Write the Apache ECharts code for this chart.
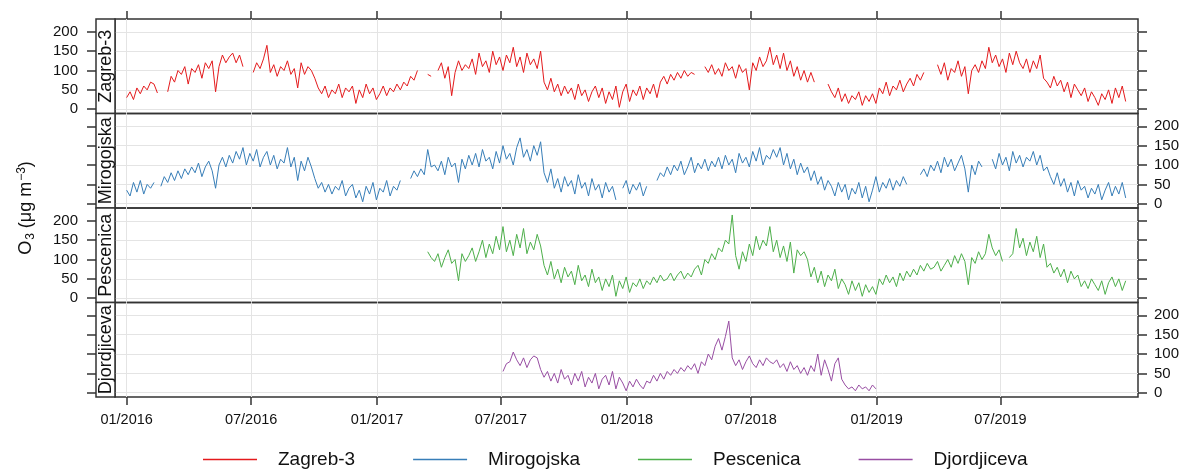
<!DOCTYPE html>
<html>
<head>
<meta charset="utf-8">
<script src="https://cdn.jsdelivr.net/npm/echarts@6/dist/echarts.min.js"></script>
<style>
  html, body { margin: 0; padding: 0; background: #ffffff; }
  #chart { width: 1182px; height: 470px; }
</style>
</head>
<body>
<div id="chart"></div>
<script>
// Daily-mean O3 at four Zagreb stations, sampled every 5 days from 01/2016.
const START = Date.UTC(2016, 0, 1);
const DAY = 86400000;
const STEP_DAYS = 5;

const stations = ['Zagreb-3', 'Mirogojska', 'Pescenica', 'Djordjiceva'];
const colors = ['#E41A1C', '#377EB8', '#4DAF4A', '#984EA3'];

// first sample day (days after 01/01/2016) of each series
const startDays = [0, 0, 440, 550];

// one row = 10 samples = 50 days
const zagreb3 = [
  30, 45, 25, 55, 40, 60, 50, 70, 65, 42,
  null, null, 45, 85, 70, 100, 90, 110, 65, 105,
  95, 115, 80, 120, 105, 125, 45, 110, 140, 120,
  135, 145, 120, 140, 110, null, null, 95, 120, 105,
  130, 165, 95, 115, 85, 110, 100, 125, 90, 105,
  55, 120, 90, 110, 100, 80, 55, 40, 60, 30,
  50, 40, 65, 30, 55, 45, 60, 15, 50, 30,
  65, 40, 55, 25, 40, 60, 35, 55, 45, 65,
  50, 70, 60, 85, 75, 100, null, null, 90, 85,
  null, 100, 120, 80, 110, 35, 95, 125, 100, 115,
  105, 130, 90, 145, 110, 125, 95, 150, 115, 135,
  100, 140, 120, 160, 110, 135, 95, 145, 115, 130,
  105, 150, 70, 50, 80, 45, 65, 35, 60, 40,
  55, 25, 65, 35, 50, 20, 45, 60, 30, 55,
  15, 45, 25, 60, 5, 45, 65, 20, 50, 35,
  60, 25, 55, 40, 65, 30, 70, 85, 65, 90,
  75, 95, 80, 100, 85, 95, 90, null, null, 110,
  95, 115, 90, 105, 85, 120, 100, 110, 80, 115,
  95, 105, 50, 120, 100, 135, 110, 125, 160, 115,
  140, 105, 145, 100, 125, 85, 110, 75, 100, 70,
  95, 70, null, null, null, 65, 45, 30, 55, 20,
  40, 15, 35, 25, 45, 10, 35, 20, 40, 15,
  55, 40, 70, 35, 60, 50, 75, 45, 65, 80,
  60, 90, 75, 95, null, null, null, 115, 90, 120,
  75, 105, 95, 125, 85, 110, 40, 100, 115, 95,
  125, 105, 160, 120, 140, 110, 130, 95, 145, 115,
  150, 120, 105, 130, 95, 125, 105, 140, 80, 70,
  55, 85, 60, 75, 45, 70, 30, 65, 50, 35,
  55, 20, 45, 30, 10, 40, 25, 50, 15, 55,
  30, 60, 20
];

const mirogojska = [
  35, 20, 55, 30, 60, 25, 50, 40, 55, null,
  45, 70, 55, 80, 60, 85, 65, 90, 75, 95,
  80, 105, 70, 95, 110, 85, 40, 100, 120, 95,
  125, 105, 135, 115, 145, 100, 130, 110, 140, 95,
  120, 135, 100, 125, 90, 115, 105, 145, 95, 120,
  60, 110, 85, 120, 95, 65, 40, 55, 30, 50,
  25, 45, 35, 60, 20, 40, 50, 15, 35, 5,
  45, 25, 55, 10, 40, 30, 60, 20, 45, 35,
  60, null, null, 65, 85, 70, 90, 75, 140, 95,
  100, 85, 110, 75, 120, 95, 105, 55, 115, 90,
  125, 100, 130, 95, 140, 110, 120, 90, 135, 105,
  150, 115, 130, 100, 145, 170, 120, 140, 110, 150,
  125, 160, 80, 55, 90, 40, 65, 30, 70, 45,
  60, 25, 75, 40, 55, 20, 65, 35, 50, 15,
  55, 30, 45, 10, null, 40, 60, 25, 50, 35,
  55, 20, 45, null, null, 60, 80, 70, 95, 75,
  100, 85, 110, 75, 95, 120, 80, 105, 90, 115,
  85, 110, 95, 120, 90, 125, 100, 115, 80, 130,
  105, 120, 95, 135, 110, 145, 100, 125, 115, 140,
  120, 145, 100, 130, 90, 115, 75, 105, 80, 95,
  60, 85, 50, 70, 35, 60, 45, 20, 55, 30,
  50, 10, 40, 25, 55, 15, 45, 5, 35, 70,
  30, 55, 40, 65, 35, 60, 45, 70, 50, null,
  null, null, 75, 90, 70, 100, 85, 110, 80, 120,
  95, 115, 85, 105, 125, 90, 30, 100, 75, 110,
  95, null, null, 115, 90, 130, 100, 120, 85, 135,
  105, 125, 95, 120, 110, 135, 100, 125, 85, 95,
  70, 50, 80, 45, 65, 30, 55, 20, 60, 35,
  45, 15, 40, 25, 50, 10, 35, 55, 20, 45,
  25, 55, 15
];

const pescenica = [
  120, 105,
  95, 115, 80, 105, 125, 90, 100, 45, 115, 95,
  110, 130, 95, 120, 150, 105, 140, 115, 160, 125,
  185, 120, 150, 110, 165, 130, 180, 115, 145, 125,
  165, 135, 85, 60, 95, 50, 75, 40, 80, 55,
  70, 35, 85, 45, 60, 30, 75, 40, 55, 20,
  50, 30, 60, 5, 45, 25, 55, 15, 40, 30,
  50, 25, 45, 35, 55, 40, 60, 45, 50, 65,
  45, 60, 70, 50, 65, 55, 75, 85, 60, 100,
  90, 115, 100, 130, 120, 150, 140, 215, 110, 75,
  120, 95, 140, 110, 160, 125, 150, 135, 185, 120,
  150, 105, 135, 95, 145, 65, 125, 110, 120, 100,
  55, 80, 40, 70, 30, 60, 45, 75, 25, 50,
  35, 10, 45, 20, 40, 5, 35, 15, 30, 10,
  50, 35, 60, 40, 55, 30, 65, 45, 70, 55,
  75, 60, 85, 70, 90, 75, 80, 95, 70, 85,
  100, 80, 110, 90, 115, 95, 35, 105, 90, 120,
  100, 115, 165, 130, 110, 125, 95, null, 105, 115,
  180, 130, 155, 110, 145, 120, 160, 105, 140, 80,
  90, 65, 80, 55, 75, 40, 70, 50, 60, 30,
  45, 25, 50, 35, 20, 45, 10, 40, 55, 30,
  50, 20, 45
];

const djordjiceva = [
  55, 75, 80, 105, 85, 70, 90, 65, 85, 95,
  90, 60, 40, 55, 30, 50, 25, 60, 35, 45,
  20, 50, 30, 55, 15, 40, 25, 50, 10, 35,
  45, 20, 55, 10, 40, 25, 5, 30, 15, 35,
  20, 10, 30, 25, 45, 30, 50, 35, 55, 45,
  60, 50, 65, 55, 70, 60, 75, 50, 80, 70,
  100, 85, 120, 140, 110, 145, 185, 90, 70, 85,
  60, 80, 95, 75, 65, 85, 70, 90, 80, 75,
  85, 65, 75, 55, 80, 60, 70, 50, 65, 45,
  70, 55, 100, 45, 85, 60, 30, 75, 90, 35,
  20, 10, 15, 5, 20, 10, 15, 5, 20, 10
];

const seriesValues = [zagreb3, mirogojska, pescenica, djordjiceva];

// x-axis ticks
const tickDates = [
  [2016, 0], [2016, 6], [2017, 0], [2017, 6],
  [2018, 0], [2018, 6], [2019, 0], [2019, 6]
];
const tickLabels = ['01/2016', '07/2016', '01/2017', '07/2017',
                    '01/2018', '07/2018', '01/2019', '07/2019'];
const yTicks = [0, 50, 100, 150, 200];

const tickTimes = tickDates.map(d => Date.UTC(d[0], d[1], 1));
const X_MIN = START - 17 * DAY;
const X_MAX = START + 1478 * DAY;
const Y_MIN = -11;
const Y_MAX = 233;

// panel layout
const PANEL_TOP = 19;
const PANEL_H = 94.5;
const PLOT_LEFT = 115;
const PLOT_RIGHT = 44;
const STRIP_X = 96;
const STRIP_W = PLOT_LEFT - STRIP_X;

const FONT = '"Liberation Sans", Arial, Helvetica, sans-serif';
const INK = '#111111';
const FRAME = '#333333';
const GRIDLINE = '#e4e4e4';

function toPoints(values, startDay) {
  return values.map((v, i) => [START + (startDay + i * STEP_DAYS) * DAY, v]);
}

function tickLabel(v) {
  let best = 0;
  tickTimes.forEach((t, j) => {
    if (Math.abs(t - v) < Math.abs(tickTimes[best] - v)) best = j;
  });
  return tickLabels[best];
}

const grids = [], xAxes = [], yAxes = [], series = [], graphics = [];

stations.forEach((name, i) => {
  const top = PANEL_TOP + i * PANEL_H;
  grids.push({
    left: PLOT_LEFT, right: PLOT_RIGHT, top: top, height: PANEL_H,
    show: true, borderColor: FRAME, borderWidth: 1.5, backgroundColor: 'transparent',
    containLabel: false, outerBoundsMode: 'none'
  });

  const isTop = i === 0, isBottom = i === stations.length - 1;
  xAxes.push({
    type: 'value', gridIndex: i, min: X_MIN, max: X_MAX,
    position: isTop ? 'top' : 'bottom',
    axisLine: { show: false, onZero: false },
    axisTick: {
      show: isTop || isBottom, inside: false, length: 8,
      customValues: tickTimes,
      lineStyle: { color: FRAME, width: 1.5 }
    },
    axisLabel: {
      show: isBottom, customValues: tickTimes, margin: 15,
      fontSize: 14.5, fontFamily: FONT, color: INK,
      formatter: tickLabel
    },
    splitLine: { show: true, lineStyle: { color: GRIDLINE, width: 1 } }
  });

  const labelLeft = i % 2 === 0;
  yAxes.push({
    type: 'value', gridIndex: i, position: 'left', offset: STRIP_W,
    min: Y_MIN, max: Y_MAX,
    axisLine: { show: false, onZero: false },
    axisTick: { show: true, inside: false, length: 9, customValues: yTicks,
                lineStyle: { color: FRAME, width: 1.5 } },
    axisLabel: { show: labelLeft, customValues: yTicks, margin: 18,
                 fontSize: 15, fontFamily: FONT, color: INK },
    splitLine: { show: true, lineStyle: { color: GRIDLINE, width: 1 } }
  });
  yAxes.push({
    type: 'value', gridIndex: i, position: 'right',
    min: Y_MIN, max: Y_MAX,
    axisLine: { show: false, onZero: false },
    axisTick: { show: true, inside: false, length: 9, customValues: yTicks,
                lineStyle: { color: FRAME, width: 1.5 } },
    axisLabel: { show: !labelLeft, customValues: yTicks, margin: 16,
                 fontSize: 15, fontFamily: FONT, color: INK },
    splitLine: { show: false }
  });

  series.push({
    name: name, type: 'line', xAxisIndex: i, yAxisIndex: 2 * i,
    data: toPoints(seriesValues[i], startDays[i]),
    symbol: 'none', connectNulls: false, animation: false,
    lineStyle: { color: colors[i], width: 1 },
    itemStyle: { color: colors[i] }
  });

  // station strip on the left of each panel
  graphics.push({
    type: 'rect', shape: { x: STRIP_X, y: top, width: STRIP_W, height: PANEL_H },
    style: { fill: '#ffffff', stroke: FRAME, lineWidth: 1.5 }, z: 10
  });
  graphics.push({
    type: 'text', x: STRIP_X + STRIP_W / 2 + 1, y: top + PANEL_H / 2, rotation: Math.PI / 2,
    style: { text: name, fontSize: 18, fontFamily: FONT, fill: INK,
             align: 'center', verticalAlign: 'middle' }, z: 11
  });
});

// y-axis title
graphics.push({
  type: 'text', x: 26, y: 208, rotation: Math.PI / 2,
  style: {
    text: '{a|O}{s|3}{a| (μg m}{p|−3}{a|)}',
    align: 'center', verticalAlign: 'middle', fill: INK,
    rich: {
      a: { fontSize: 18, fontFamily: FONT, fill: INK },
      s: { fontSize: 12, fontFamily: FONT, fill: INK, padding: [9, 0, 0, 1] },
      p: { fontSize: 12, fontFamily: FONT, fill: INK, padding: [0, 0, 9, 1] }
    }
  }
});

const chart = echarts.init(document.getElementById('chart'), null, { renderer: 'canvas' });
chart.setOption({
  animation: false,
  backgroundColor: '#ffffff',
  grid: grids,
  xAxis: xAxes,
  yAxis: yAxes,
  series: series,
  graphic: graphics,
  legend: {
    data: stations, left: 198, top: 445,
    icon: 'rect', itemWidth: 54, itemHeight: 1.5, itemGap: 58,
    textStyle: { fontSize: 19, fontFamily: FONT, color: INK, padding: [0, 0, 0, 16] }
  }
});
</script>
</body>
</html>
